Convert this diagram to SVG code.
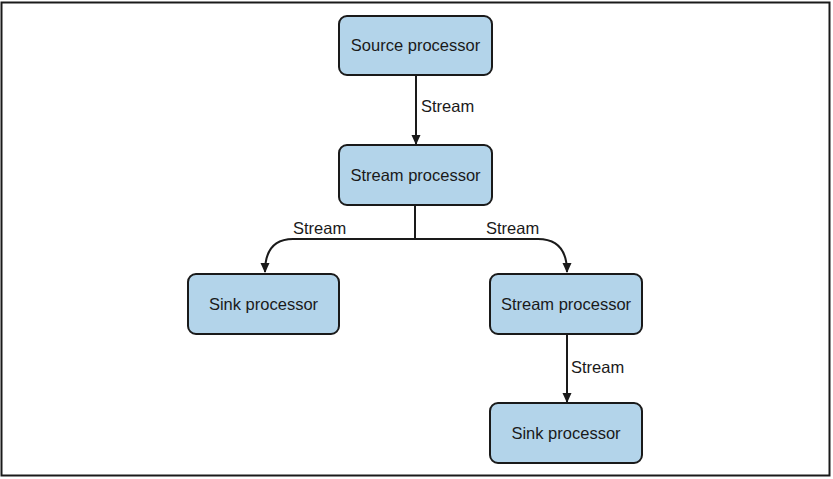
<svg xmlns="http://www.w3.org/2000/svg" width="833" height="479" viewBox="0 0 833 479">
<style>
.box{fill:#b3d4ea;stroke:#1a1a1a;stroke-width:2}
.lbl{font-family:"Liberation Sans",Arial,sans-serif;font-size:16.5px;fill:#1a1a1a}
.c{text-anchor:middle}
.edge{fill:none;stroke:#1a1a1a;stroke-width:2}
</style>
<defs>
<marker id="ah" viewBox="0 0 10 10" refX="9" refY="5" markerWidth="10" markerHeight="10" orient="auto" markerUnits="userSpaceOnUse">
<path d="M0,0.5 L10,5 L0,9.5 z" fill="#1a1a1a"/>
</marker>
</defs>
<rect x="1.5" y="2.5" width="828" height="473" fill="#fff" stroke="#1a1a1a" stroke-width="2"/>
<g id="connectors">
<path class="edge" d="M416,75 V144" marker-end="url(#ah)"/>
<path class="edge" d="M415,205 V239"/>
<path class="edge" d="M415,239 H293 Q265,239 265,272" marker-end="url(#ah)"/>
<path class="edge" d="M415,239 H538 Q567,239 567,272" marker-end="url(#ah)"/>
<path class="edge" d="M567,334 V402" marker-end="url(#ah)"/>
<text class="lbl" x="421" y="112">Stream</text>
<text class="lbl" x="293" y="234">Stream</text>
<text class="lbl" x="486" y="234">Stream</text>
<text class="lbl" x="571" y="373">Stream</text>
</g>
<g id="source">
<rect class="box" x="339" y="16" width="153" height="59" rx="8"/>
<text class="lbl c" x="415.5" y="51">Source processor</text>
</g>
<g id="stream1">
<rect class="box" x="339" y="145" width="153" height="60" rx="8"/>
<text class="lbl c" x="415.5" y="181">Stream processor</text>
</g>
<g id="sink1">
<rect class="box" x="188" y="274" width="151" height="60" rx="8"/>
<text class="lbl c" x="263.5" y="310">Sink processor</text>
</g>
<g id="stream2">
<rect class="box" x="490" y="274" width="152" height="60" rx="8"/>
<text class="lbl c" x="566" y="310">Stream processor</text>
</g>
<g id="sink2">
<rect class="box" x="490" y="403" width="152" height="60" rx="8"/>
<text class="lbl c" x="566" y="439">Sink processor</text>
</g>
</svg>
